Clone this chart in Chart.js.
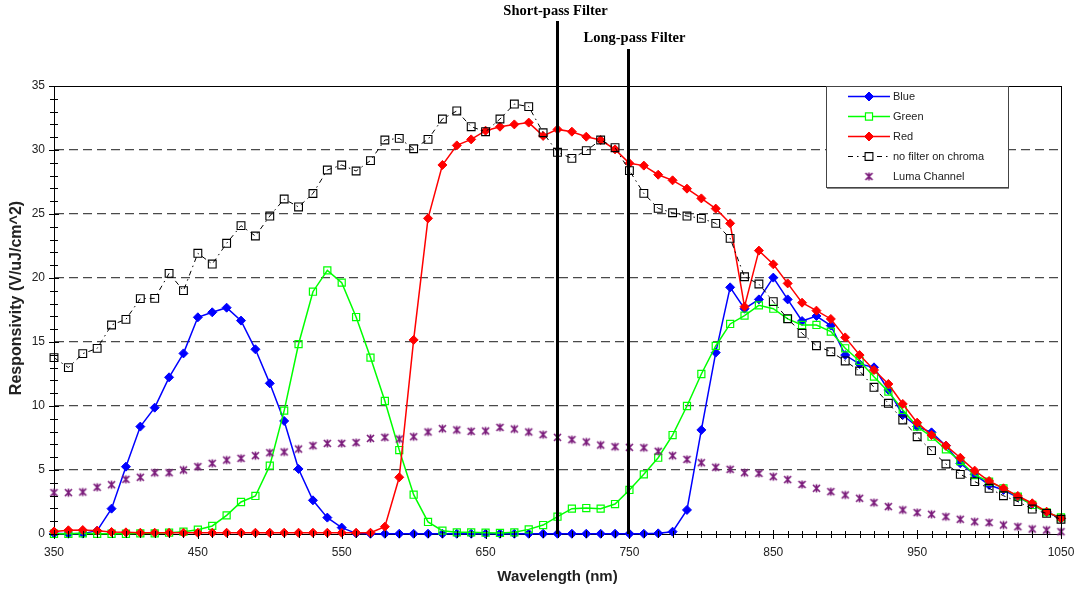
<!DOCTYPE html>
<html>
<head>
<meta charset="utf-8">
<script src="https://cdn.jsdelivr.net/npm/chart.js@4.4.1/dist/chart.umd.min.js"></script>
<style>
  html, body { margin: 0; padding: 0; background: #fff; }
  #wrap { width: 1075px; height: 589px; position: relative; }
</style>
</head>
<body>
<div id="wrap"><canvas id="c" width="1075" height="589"></canvas></div>
<script>
// Wavelength grid (nm)
const wavelengths = [350,360,370,380,390,400,410,420,430,440,450,460,470,480,490,500,510,520,530,540,
  550,560,570,580,590,600,610,620,630,640,650,660,670,680,690,700,710,720,730,740,
  750,760,770,780,790,800,810,820,830,840,850,860,870,880,890,900,910,920,930,940,
  950,960,970,980,990,1000,1010,1020,1030,1040,1050];

// Responsivity (V/uJ/cm^2) per channel
const blue = [0.05,0.02,0.03,0.26,1.98,5.26,8.39,9.87,12.24,14.11,16.93,17.32,17.68,16.67,14.43,11.77,8.83,5.08,2.63,1.28,
  0.5,0.05,0.02,0.02,0.02,0.02,0.02,0.02,0.02,0.02,0.02,0.02,0.02,0.02,0.02,0.02,0.02,0.02,0.02,0.02,
  0.02,0.02,0.05,0.18,1.88,8.13,14.17,19.27,17.6,18.33,20.03,18.33,16.64,17.03,16.28,13.98,13.28,13.02,11.25,9.3,
  8.39,7.94,6.9,5.52,4.66,3.83,3.44,2.86,2.34,1.69,1.22];

const green = [0.02,0.02,0.05,0.02,0.02,0.02,0.05,0.05,0.1,0.18,0.34,0.63,1.46,2.5,2.97,5.34,9.64,14.84,18.93,20.6,
  19.64,16.95,13.78,10.39,6.56,3.07,0.94,0.26,0.13,0.13,0.1,0.08,0.13,0.36,0.7,1.35,1.98,2.03,1.98,2.34,
  3.44,4.66,5.96,7.73,10.0,12.5,14.69,16.41,17.06,17.86,17.6,16.8,16.33,16.33,15.81,14.51,13.52,12.29,11.12,9.69,
  8.39,7.6,6.61,5.7,4.61,4.09,3.57,2.92,2.27,1.69,1.3];

const red = [0.2,0.29,0.31,0.26,0.16,0.13,0.1,0.1,0.1,0.1,0.1,0.1,0.1,0.1,0.1,0.1,0.1,0.1,0.1,0.1,
  0.1,0.1,0.1,0.57,4.43,15.16,24.66,28.83,30.36,30.83,31.51,31.82,32.0,32.14,31.1,31.61,31.43,31.04,30.78,30.05,
  28.96,28.78,28.07,27.63,26.98,26.22,25.42,24.27,17.76,22.14,21.07,19.58,18.07,17.45,16.8,15.36,13.98,12.81,11.72,10.16,
  8.7,7.73,6.9,5.96,4.95,4.14,3.57,2.97,2.4,1.74,1.22];

const noFilter = [13.78,13.0,14.09,14.5,16.33,16.77,18.39,18.41,20.36,19.01,21.93,21.09,22.71,24.09,23.28,24.84,26.17,25.55,26.6,28.44,
  28.83,28.36,29.17,30.78,30.91,30.1,30.83,32.42,33.05,31.82,31.43,32.42,33.59,33.39,31.35,29.82,29.35,29.95,30.78,30.18,
  28.39,26.61,25.44,25.1,24.84,24.66,24.27,23.1,20.1,19.53,18.15,16.82,15.68,14.71,14.24,13.52,12.73,11.46,10.21,8.91,
  7.6,6.51,5.47,4.66,4.09,3.57,2.99,2.53,1.95,1.61,1.15];

const luma = [3.23,3.23,3.28,3.65,3.85,4.27,4.43,4.79,4.79,5.0,5.26,5.52,5.78,5.91,6.12,6.35,6.41,6.64,6.9,7.08,
  7.08,7.14,7.47,7.55,7.42,7.6,7.97,8.23,8.13,8.02,8.05,8.33,8.2,7.97,7.76,7.55,7.37,7.19,6.95,6.82,
  6.77,6.74,6.46,6.12,5.83,5.57,5.21,5.05,4.79,4.74,4.48,4.25,3.87,3.57,3.31,3.05,2.79,2.45,2.14,1.88,
  1.67,1.54,1.35,1.15,0.96,0.89,0.7,0.57,0.39,0.31,0.18];

const seriesNames = ['Blue', 'Green', 'Red', 'no filter on chroma', 'Luma Channel'];

// Axis ticks and titles
const xTicks = [350,450,550,650,750,850,950,1050];
const yTicks = [0,5,10,15,20,25,30,35];
const yTitle = 'Responsivity (V/uJ/cm^2)';

// Filter cut-off markers (nm)
const filterNames = ['Short-pass Filter', 'Long-pass Filter'];
const filterEdges = [700, 750];

// Asterisk marker (X with a vertical stroke) for the luma channel
function starMarker(color) {
  const c = document.createElement('canvas');
  c.width = 11; c.height = 11;
  const g = c.getContext('2d');
  g.strokeStyle = color;
  g.lineWidth = 1.7;
  g.beginPath();
  g.moveTo(2, 2); g.lineTo(9, 9);
  g.moveTo(9, 2); g.lineTo(2, 9);
  g.moveTo(5.5, 1.5); g.lineTo(5.5, 9.5);
  g.stroke();
  return c;
}

const toPoints = vals => vals.map((v, i) => ({ x: wavelengths[i], y: v }));

const datasets = [
  { label: seriesNames[0], data: toPoints(blue), borderColor: '#0000FF', backgroundColor: '#0000FF',
    borderWidth: 1.5, pointStyle: 'rectRot', pointRadius: 4.5, pointBorderWidth: 1, order: 5 },
  { label: seriesNames[1], data: toPoints(green), borderColor: '#00FF00', backgroundColor: '#FFFFFF',
    pointBackgroundColor: 'rgba(255,255,255,0)', borderWidth: 1.5, pointStyle: 'rect', pointRadius: 5,
    pointBorderWidth: 1.2, order: 4 },
  { label: seriesNames[2], data: toPoints(red), borderColor: '#FF0000', backgroundColor: '#FF0000',
    borderWidth: 1.5, pointStyle: 'rectRot', pointRadius: 4.5, pointBorderWidth: 1, order: 3 },
  { label: seriesNames[3], data: toPoints(noFilter), borderColor: '#000000', backgroundColor: 'rgba(255,255,255,0)',
    borderWidth: 1, borderDash: [5, 4, 1.5, 4], pointStyle: 'rect', pointRadius: 5.5, pointBorderWidth: 1.1, order: 2 },
  { label: seriesNames[4], data: toPoints(luma), borderColor: '#800080', backgroundColor: '#800080',
    showLine: false, pointStyle: starMarker('#7a1a7a'), pointRadius: 5, order: 1 }
];
datasets.forEach(d => { d.clip = false; d.tension = 0; d.fill = false; });

// Crossing tick marks, frame, filter edges, y title and the boxed legend
const decorations = {
  id: 'decorations',
  afterDatasetsDraw(chart) {
    const { ctx, chartArea: a, scales: { x } } = chart;
    ctx.save();
    const tops = [21, 49];
    const labelY = [11, 38];
    const labelDx = [-2, 6];
    filterEdges.forEach((nm, i) => {
      const px = Math.round(x.getPixelForValue(nm)) - 0.5;
      ctx.strokeStyle = '#000';
      ctx.lineWidth = 3;
      ctx.setLineDash([]);
      ctx.beginPath();
      ctx.moveTo(px, tops[i]);
      ctx.lineTo(px, a.bottom);
      ctx.stroke();
      ctx.fillStyle = '#000';
      ctx.font = 'bold 14.5px "Liberation Serif", "Times New Roman", serif';
      ctx.textAlign = 'center';
      ctx.textBaseline = 'middle';
      ctx.fillText(filterNames[i], px + labelDx[i], labelY[i]);
    });
    ctx.restore();
  },
  afterDraw(chart) {
    const { ctx, chartArea: a, scales: { x, y } } = chart;
    ctx.save();
    ctx.strokeStyle = '#000';
    ctx.lineWidth = 1;
    ctx.setLineDash([]);
    // frame (top and right)
    ctx.beginPath();
    ctx.moveTo(a.left, a.top + 0.5); ctx.lineTo(a.right + 0.5, a.top + 0.5);
    ctx.moveTo(a.right + 0.5, a.top); ctx.lineTo(a.right + 0.5, a.bottom);
    ctx.stroke();
    // y tick marks every unit, crossing the axis
    ctx.beginPath();
    for (let v = y.min; v <= y.max; v += 1) {
      const py = Math.round(y.getPixelForValue(v)) + 0.5;
      const major = v % 5 === 0;
      ctx.moveTo(a.left - (major ? 5 : 4), py);
      ctx.lineTo(a.left + (major ? 5 : 4), py);
    }
    // x tick marks every 10 nm, crossing the axis
    for (let v = x.min; v <= x.max; v += 10) {
      const px = Math.round(x.getPixelForValue(v)) + 0.5;
      const major = (v - x.min) % 100 === 0;
      ctx.moveTo(px, a.bottom - (major ? 4 : 3));
      ctx.lineTo(px, a.bottom + (major ? 5 : 4));
    }
    ctx.stroke();

    // y axis title
    ctx.save();
    ctx.translate(17, 298);
    ctx.rotate(-Math.PI / 2);
    ctx.fillStyle = '#222';
    ctx.font = 'bold 16px "Liberation Sans", Arial, sans-serif';
    ctx.textAlign = 'center';
    ctx.textBaseline = 'middle';
    ctx.fillText(yTitle, 0, 0);
    ctx.restore();

    // legend box
    const L = { x: 826, y: 86, w: 182, h: 101 };
    ctx.fillStyle = '#fff';
    ctx.fillRect(L.x, L.y, L.w, L.h);
    ctx.strokeStyle = '#444';
    ctx.lineWidth = 1;
    ctx.strokeRect(L.x + 0.5, L.y + 0.5, L.w, L.h);
    ctx.strokeStyle = '#888';
    ctx.beginPath();
    ctx.moveTo(L.x + 1, L.y + L.h + 1.5); ctx.lineTo(L.x + L.w + 1, L.y + L.h + 1.5);
    ctx.stroke();

    chart.data.datasets.forEach((ds, i) => {
      const cy = L.y + 10.5 + i * 20;
      const x0 = 848, x1 = 890, cx = 869;
      if (ds.showLine !== false) {
        ctx.strokeStyle = ds.borderColor;
        ctx.lineWidth = ds.borderWidth;
        ctx.setLineDash(ds.borderDash || []);
        ctx.beginPath();
        ctx.moveTo(x0, cy); ctx.lineTo(x1, cy);
        ctx.stroke();
        ctx.setLineDash([]);
      }
      ctx.strokeStyle = ds.borderColor;
      ctx.fillStyle = ds.pointBackgroundColor || ds.backgroundColor;
      ctx.lineWidth = ds.pointBorderWidth || 1;
      if (ds.pointStyle === 'rect') {
        ctx.fillStyle = '#fff';
      }
      Chart.helpers.drawPoint(ctx, {
        pointStyle: ds.pointStyle, rotation: 0,
        radius: ds.pointStyle instanceof HTMLCanvasElement ? 4 : ds.pointRadius,
        borderWidth: ds.pointBorderWidth || 1
      }, cx, cy);
      ctx.fillStyle = '#222';
      ctx.font = '11px "Liberation Sans", Arial, sans-serif';
      ctx.textAlign = 'left';
      ctx.textBaseline = 'middle';
      ctx.fillText(ds.label, 893, cy);
    });
    ctx.restore();
  }
};

new Chart(document.getElementById('c'), {
  type: 'line',
  data: { datasets },
  plugins: [decorations],
  options: {
    responsive: false,
    animation: false,
    devicePixelRatio: 1,
    events: [],
    layout: { padding: { top: 86, right: 0, left: 0, bottom: 0 } },
    plugins: { legend: { display: false }, tooltip: { enabled: false } },
    scales: {
      x: {
        type: 'linear', min: 350, max: 1050,
        afterFit: s => { s.height = 55; s.paddingLeft = 0; s.paddingRight = 14; },
        afterBuildTicks: s => { s.ticks = xTicks.map(v => ({ value: v })); },
        grid: { display: false, drawTicks: false },
        border: { display: true, color: '#000', width: 1 },
        ticks: { padding: 11, color: '#222', callback: v => String(v),
          font: { family: '"Liberation Sans", Arial, sans-serif', size: 12 }, maxRotation: 0, autoSkip: false },
        title: { display: true, text: 'Wavelength (nm)', color: '#222',
          font: { family: '"Liberation Sans", Arial, sans-serif', size: 15, weight: 'bold' }, padding: { top: 0, bottom: 3 } }
      },
      y: {
        min: 0, max: 35,
        afterFit: s => { s.width = 54; s.paddingTop = 0; s.paddingBottom = 0; },
        afterBuildTicks: s => { s.ticks = yTicks.map(v => ({ value: v })); },
        grid: {
          drawTicks: false,
          color: c => (c.tick && (c.tick.value === 0 || c.tick.value === 35)) ? 'rgba(0,0,0,0)' : '#4a4a4a',
          lineWidth: 1.3
        },
        border: { display: true, color: '#000', width: 1, dash: [9, 5] },
        ticks: { padding: 9, color: '#222', callback: v => String(v),
          font: { family: '"Liberation Sans", Arial, sans-serif', size: 12 } },
        title: { display: false }
      }
    }
  }
});
</script>
</body>
</html>
